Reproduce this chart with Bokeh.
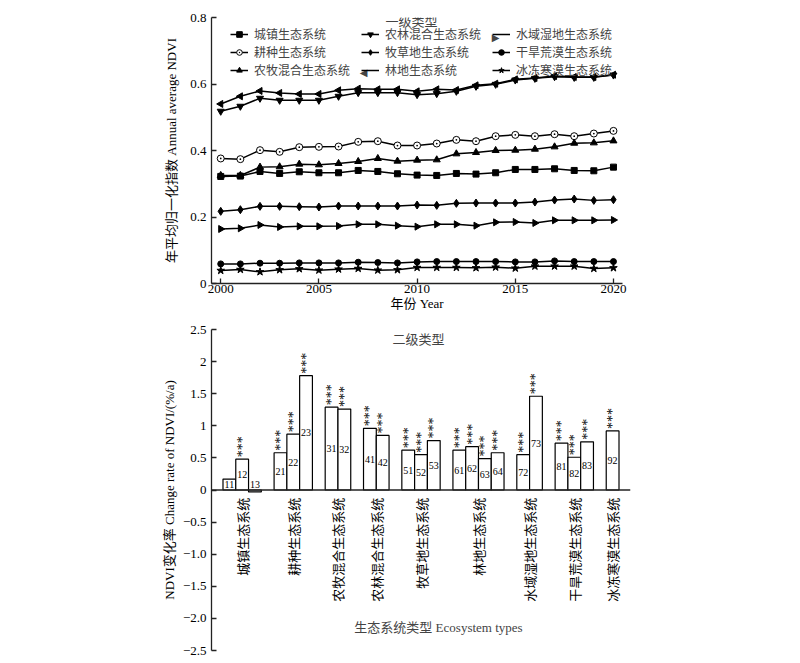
import numpy as np
from bokeh.plotting import figure
from bokeh.layouts import column
from bokeh.models import (FactorRange, FixedTicker, Legend, LegendItem, Label,
                          Span, ColumnDataSource, Range1d)
from bokeh.core.properties import value
from bokeh.embed import file_html
from bokeh.resources import INLINE

FONT = "'Liberation Serif', 'Noto Sans CJK SC'"

# ---------------- data: top chart (annual mean NDVI) ----------------
years = list(range(2000, 2021))
urban = [0.322, 0.323, 0.337, 0.331, 0.336, 0.333, 0.333, 0.340, 0.337, 0.330, 0.326,
         0.325, 0.331, 0.329, 0.333, 0.343, 0.343, 0.345, 0.340, 0.339, 0.350]
cropland = [0.376, 0.374, 0.401, 0.396, 0.410, 0.411, 0.412, 0.426, 0.428, 0.415, 0.415,
            0.421, 0.432, 0.428, 0.443, 0.447, 0.443, 0.449, 0.443, 0.451, 0.459]
agro_pastoral = [0.325, 0.325, 0.350, 0.351, 0.359, 0.357, 0.361, 0.367, 0.376, 0.368, 0.371,
                 0.372, 0.390, 0.394, 0.400, 0.401, 0.404, 0.411, 0.422, 0.423, 0.429]
agro_forest = [0.518, 0.533, 0.557, 0.551, 0.551, 0.551, 0.563, 0.574, 0.574, 0.574, 0.568,
               0.571, 0.578, 0.593, 0.599, 0.612, 0.617, 0.622, 0.620, 0.620, 0.627]
grassland = [0.217, 0.222, 0.232, 0.232, 0.231, 0.230, 0.233, 0.233, 0.233, 0.233, 0.236,
             0.235, 0.241, 0.242, 0.242, 0.242, 0.245, 0.251, 0.254, 0.250, 0.252]
forest = [0.540, 0.563, 0.579, 0.573, 0.570, 0.570, 0.581, 0.586, 0.584, 0.584, 0.578,
          0.584, 0.582, 0.596, 0.601, 0.614, 0.618, 0.624, 0.621, 0.621, 0.628]
wetland = [0.164, 0.166, 0.176, 0.170, 0.172, 0.172, 0.173, 0.178, 0.178, 0.174, 0.171,
           0.178, 0.178, 0.174, 0.184, 0.185, 0.182, 0.190, 0.190, 0.190, 0.191]
desert = [0.059, 0.059, 0.061, 0.061, 0.062, 0.062, 0.062, 0.064, 0.063, 0.062, 0.065,
          0.066, 0.066, 0.066, 0.066, 0.065, 0.065, 0.068, 0.066, 0.066, 0.066]
glacier = [0.039, 0.042, 0.035, 0.041, 0.044, 0.040, 0.043, 0.045, 0.040, 0.041, 0.048,
           0.048, 0.048, 0.047, 0.049, 0.046, 0.052, 0.052, 0.052, 0.045, 0.047]

series_names = ["城镇生态系统", "耕种生态系统", "农牧混合生态系统",
                "农林混合生态系统", "牧草地生态系统", "林地生态系统",
                "水域湿地生态系统", "干旱荒漠生态系统", "冰冻寒漠生态系统"]
series_values = [urban, cropland, agro_pastoral, agro_forest, grassland, forest,
                 wetland, desert, glacier]
# marker, size, angle, fill
series_styles = [("square", 6, 0.0, "black"),
                 ("circle_dot", 7, 0.0, "white"),
                 ("triangle", 7, 0.0, "black"),
                 ("inverted_triangle", 7, 0.0, "black"),
                 ("diamond", 8, 0.0, "black"),
                 ("triangle", 7, np.pi / 2, "black"),
                 ("triangle", 7, -np.pi / 2, "black"),
                 ("circle", 6, 0.0, "black"),
                 ("star", 8, 0.0, "black")]
year_ticks = [2000, 2005, 2010, 2015, 2020]
ndvi_ticks = [0, 0.2, 0.4, 0.6, 0.8]

# ---------------- data: bottom chart (change rate) ----------------
groups = ["城镇生态系统", "耕种生态系统", "农牧混合生态系统", "农林混合生态系统",
          "牧草地生态系统", "林地生态系统", "水域湿地生态系统", "干旱荒漠生态系统",
          "冰冻寒漠生态系统"]
codes = ["11", "12", "13", "21", "22", "23", "31", "32", "41", "42", "51", "52", "53",
         "61", "62", "63", "64", "72", "73", "81", "82", "83", "92"]
rates = [0.17, 0.48, -0.03, 0.58, 0.87, 1.78, 1.29, 1.26, 0.96, 0.85, 0.62, 0.55, 0.77,
         0.62, 0.675, 0.49, 0.58, 0.55, 1.46, 0.73, 0.51, 0.75, 0.92]
signif = ["", "***", ""] + ["***"] * 20
rate_ticks = [-2.5, -2.0, -1.5, -1.0, -0.5, 0, 0.5, 1.0, 1.5, 2.0, 2.5]


def style_axes(p):
    for ax in list(p.xaxis) + list(p.yaxis):
        ax.axis_line_color = "#222222"
        ax.axis_line_width = 1.3
        ax.major_tick_line_color = "#222222"
        ax.major_tick_line_width = 1.3
        ax.major_tick_in = 5
        ax.major_tick_out = 0
        ax.minor_tick_line_color = None
        ax.major_label_text_font = FONT
        ax.major_label_text_font_size = "13px"
        ax.major_label_text_color = "black"
        ax.axis_label_text_font = FONT
        ax.axis_label_text_font_size = "13px"
        ax.axis_label_text_font_style = "normal"
        ax.axis_label_text_color = "black"


# ================= top chart =================
p1 = figure(width=634, height=313, output_backend="svg", toolbar_location=None,
            x_range=Range1d(1999.53, 2020.46), y_range=Range1d(0, 0.8),
            min_border_left=209, min_border_right=12, min_border_top=17)
p1.outline_line_color = None
p1.grid.visible = False
style_axes(p1)
p1.xaxis.ticker = FixedTicker(ticks=year_ticks)
p1.yaxis.ticker = FixedTicker(ticks=ndvi_ticks)
p1.yaxis.major_label_overrides = {0: "0"}
p1.xaxis.axis_label = "年份 Year"
p1.yaxis.axis_label = "年平均归一化指数 Annual average NDVI"
p1.xaxis.major_label_standoff = 1
p1.xaxis.axis_label_standoff = 0
p1.yaxis.axis_label_standoff = 8

items = []
for name, vals, (mk, sz, ang, fill) in zip(series_names, series_values, series_styles):
    src = ColumnDataSource(dict(x=years, y=vals))
    r1 = p1.line("x", "y", source=src, line_color="black", line_width=1.5)
    r2 = p1.scatter("x", "y", source=src, marker=mk, size=sz, angle=ang,
                    fill_color=fill, line_color="black", line_width=1.0)
    # legend glyphs are never rotated by Bokeh: rotated triangles get an overlay below
    items.append(LegendItem(label=name, renderers=[r1] if ang != 0 else [r1, r2]))

legend = Legend(items=items, ncols=3, location=(19, 204), padding=0, margin=0,
                spacing=0, glyph_width=18, glyph_height=14, label_height=14,
                label_width=107, label_standoff=6,
                label_text_font=FONT, label_text_font_size="12px",
                border_line_color=None, background_fill_alpha=0)
p1.add_layout(legend)
# rotated-triangle symbols for the two legend entries (林地 ◀, 水域湿地 ▶)
for sym, sx, sy in [("\u25C0", 152, 211), ("\u25B6", 284, 246)]:
    p1.add_layout(Label(x=sx, y=sy, x_units="screen", y_units="screen", text=sym,
                        text_font="DejaVu Sans", text_font_size="10px",
                        text_align="center", text_baseline="middle"))
p1.add_layout(Label(x=200, y=262, x_units="screen", y_units="screen", text="一级类型",
                    text_font=FONT, text_font_size="13px", text_align="center",
                    text_baseline="middle"))

# ================= bottom chart =================
group_of = {str(i + 1): g for i, g in enumerate(groups)}
factors = [(group_of[c[0]], c) for c in codes]

x_range = FactorRange(*factors, factor_padding=0.0, group_padding=1.0,
                      range_padding=0.9, range_padding_units="absolute")
p2 = figure(width=642, height=343, output_backend="svg", toolbar_location=None,
            x_range=x_range, y_range=Range1d(-2.5, 2.5), x_axis_location=None,
            min_border_left=211, min_border_right=8, min_border_top=16,
            min_border_bottom=6)
p2.outline_line_color = None
p2.grid.visible = False
style_axes(p2)
p2.yaxis.ticker = FixedTicker(ticks=rate_ticks)
p2.yaxis.major_label_overrides = {0: "0", -0.5: "\u22120.5", -1.0: "\u22121.0",
                                  -1.5: "\u22121.5", -2.0: "\u22122.0", -2.5: "\u22122.5"}
p2.yaxis.axis_label = "NDVI变化率 Change rate of NDVI/(%/a)"
p2.yaxis.axis_label_standoff = 3

rates_arr = np.array(rates)
bsrc = ColumnDataSource(dict(
    x=factors, top=rates, code=codes, sig=signif,
    label_y=np.where(rates_arr > 0.2, rates_arr / 2, 0.085),
    star_y=np.maximum(rates_arr, 0),
))
p2.vbar(x="x", top="top", bottom=0, width=1.0, source=bsrc, fill_color="white",
        line_color="black", line_width=1.2)
p2.text(x="x", y="label_y", text="code", source=bsrc, text_align="center",
        text_baseline="middle", text_font=value("Liberation Serif"),
        text_font_size="10px", text_color="black")
p2.text(x="x", y="star_y", text="sig", source=bsrc, angle=np.pi / 2,
        text_align="left", text_baseline="middle", y_offset=-2,
        text_font=value("Liberation Serif"), text_font_size="14px",
        text_color="black")

label_level = -0.12
gsrc = ColumnDataSource(dict(x=groups, y=[label_level] * len(groups), t=groups))
p2.text(x="x", y="y", text="t", source=gsrc, angle=np.pi / 2, text_align="right",
        text_baseline="middle", text_font=value("Noto Sans CJK SC"),
        text_font_size="13px", text_color="black")

p2.add_layout(Span(location=0, dimension="width", line_color="#222222", line_width=1.3))
p2.add_layout(Label(x=207, y=311, x_units="screen", y_units="screen", text="二级类型",
                    text_font=FONT, text_font_size="13px", text_align="center",
                    text_baseline="middle"))
p2.add_layout(Label(x=227, y=23, x_units="screen", y_units="screen",
                    text="生态系统类型 Ecosystem types",
                    text_font=FONT, text_font_size="13px", text_align="center",
                    text_baseline="middle"))

layout = column(p1, p2, spacing=0)
open("out.html", "w").write(file_html(layout, INLINE))
